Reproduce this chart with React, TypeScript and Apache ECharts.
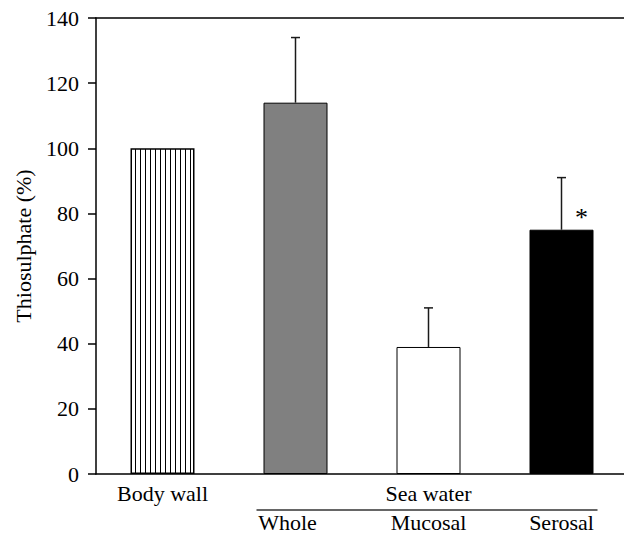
import React, { useEffect, useRef } from "react";
import * as echarts from "echarts";

// Categories and measured values (thiosulphate, % of body wall)
const categories = ["Body wall", "Whole", "Mucosal", "Serosal"];
const upperLabels = ["Body wall", "", "Sea water", ""];
const lowerLabels = ["", "Whole", "Mucosal", "Serosal"];
const means = [100, 114, 39, 75];
const errors = [0, 20, 12, 16];
const significance = ["", "", "", "*"];
// first and last category index grouped under "Sea water"
const seaWaterGroup = [1, 3];

const Y_MIN = 0;
const Y_MAX = 140;
const Y_STEP = 20;

const FONT = "Liberation Serif, Times New Roman, Times, serif";
const FS = 22;

function makeStripePattern(): HTMLCanvasElement {
  const c = document.createElement("canvas");
  c.width = 5;
  c.height = 10;
  const ctx = c.getContext("2d")!;
  ctx.fillStyle = "#ffffff";
  ctx.fillRect(0, 0, 5, 10);
  ctx.fillStyle = "#000000";
  ctx.fillRect(0, 0, 1, 10);
  return c;
}

export default function App() {
  const ref = useRef<HTMLDivElement>(null);

  useEffect(() => {
    if (!ref.current) return;
    const chart = echarts.init(ref.current, undefined, { renderer: "svg" });

    const stripes = { image: makeStripePattern(), repeat: "repeat" as const };
    const fills: any[] = [stripes, "#808080", "#ffffff", "#000000"];
    const borders = [1.5, 1, 1, 1];

    const option: any = {
      animation: false,
      backgroundColor: "#ffffff",
      textStyle: { fontFamily: FONT, color: "#000" },
      grid: {
        left: 96,
        right: -4,
        top: 18,
        bottom: 62,
        containLabel: false,
        outerBoundsMode: "none",
      },
      xAxis: [
        {
          type: "category",
          data: categories,
          position: "bottom",
          axisLine: { show: true, lineStyle: { color: "#000", width: 1.5 } },
          axisTick: { show: false },
          axisLabel: {
            interval: 0,
            margin: 4,
            fontFamily: FONT,
            fontSize: FS,
            lineHeight: 30,
            color: "#000",
            formatter: (_v: string, i: number) => {
              const low = lowerLabels[i];
              const style = i === 1 ? "lowShift" : "low";
              return `${upperLabels[i]}\n{${style}|${low}}`;
            },
            rich: {
              low: {
                fontFamily: FONT,
                fontSize: FS,
                lineHeight: 22,
                color: "#000",
                padding: [6, 0, 0, 0],
              },
              lowShift: {
                fontFamily: FONT,
                fontSize: FS,
                lineHeight: 22,
                color: "#000",
                padding: [6, 16, 0, 0],
              },
            },
          },
        },
        {
          type: "category",
          data: categories,
          position: "top",
          axisLine: { show: true, lineStyle: { color: "#000", width: 1.5 } },
          axisTick: { show: false },
          axisLabel: { show: false },
        },
      ],
      yAxis: {
        type: "value",
        min: Y_MIN,
        max: Y_MAX,
        interval: Y_STEP,
        name: "Thiosulphate (%)",
        nameLocation: "middle",
        nameGap: 62,
        nameTextStyle: { fontFamily: FONT, fontSize: FS, color: "#000" },
        axisLine: { show: true, lineStyle: { color: "#000", width: 1.5 } },
        axisTick: { show: true, length: 8, lineStyle: { color: "#000", width: 1.5 } },
        axisLabel: { margin: 17, fontFamily: FONT, fontSize: FS, color: "#000" },
        splitLine: { show: false },
      },
      series: [
        {
          type: "bar",
          xAxisIndex: 0,
          barWidth: 64,
          data: means.map((v, i) => ({
            value: v,
            itemStyle: {
              color: fills[i],
              borderColor: "#000",
              borderWidth: borders[i],
            },
          })),
        },
        {
          // upward error bars with caps
          type: "custom",
          xAxisIndex: 0,
          clip: false,
          z: 3,
          data: categories.map((_c, i) => [i, means[i], errors[i]]),
          renderItem: (_p: any, api: any) => {
            const i = api.value(0);
            const m = api.value(1);
            const e = api.value(2);
            if (!e) return null;
            const base = api.coord([i, m]);
            const top = api.coord([i, m + e]);
            const st = { stroke: "#1a1a1a", lineWidth: 1.5 };
            return {
              type: "group",
              children: [
                { type: "line", shape: { x1: base[0], y1: base[1], x2: top[0], y2: top[1] }, style: st },
                { type: "line", shape: { x1: top[0] - 4.5, y1: top[1], x2: top[0] + 4.5, y2: top[1] }, style: st },
              ],
            };
          },
        },
        {
          // significance marks beside the bars
          type: "custom",
          xAxisIndex: 0,
          clip: false,
          z: 4,
          data: categories.map((_c, i) => [i, means[i], significance[i]]),
          renderItem: (_p: any, api: any) => {
            const i = api.value(0);
            const m = api.value(1);
            const mark = significance[i];
            if (!mark) return null;
            const p = api.coord([i, m]);
            return {
              type: "text",
              x: p[0] + 20,
              y: p[1] - 12,
              style: {
                text: mark,
                fontFamily: FONT,
                fontSize: 26,
                fill: "#000",
                align: "center",
                verticalAlign: "middle",
              },
            };
          },
        },
        {
          // bracket line grouping the sea water categories
          type: "custom",
          xAxisIndex: 0,
          clip: false,
          silent: true,
          data: [[seaWaterGroup[0], seaWaterGroup[1]]],
          encode: { x: [0, 1] },
          renderItem: (_p: any, api: any) => {
            const a = api.coord([api.value(0), 0]);
            const b = api.coord([api.value(1), 0]);
            return {
              type: "line",
              shape: { x1: a[0] - 39, y1: a[1] + 36, x2: b[0] + 36, y2: a[1] + 36 },
              style: { stroke: "#333", lineWidth: 1.5 },
            };
          },
        },
      ],
    };

    chart.setOption(option);
    return () => chart.dispose();
  }, []);

  return (
    <div
      ref={ref}
      style={{ position: "absolute", left: 0, top: 0, width: 624, height: 536 }}
    />
  );
}
